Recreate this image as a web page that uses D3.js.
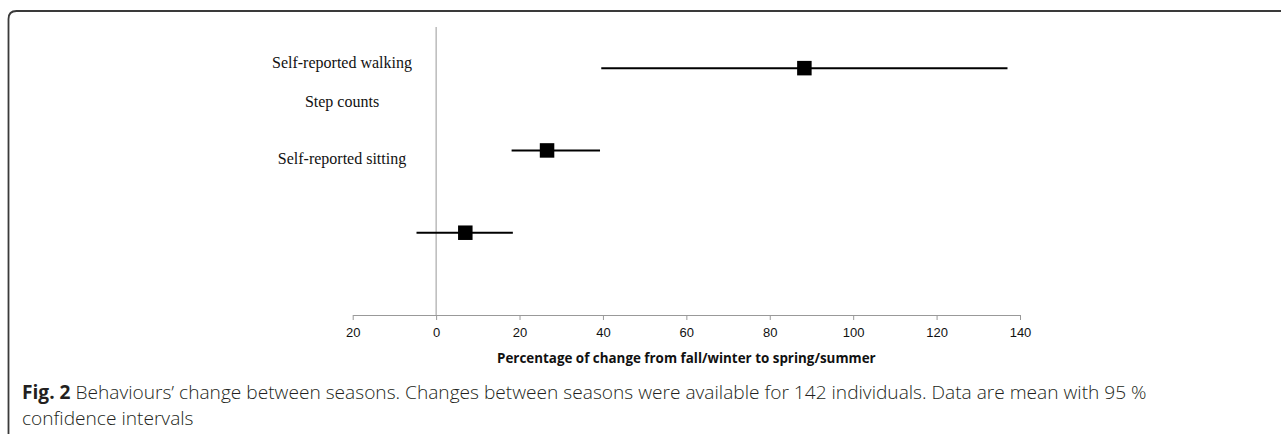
<!DOCTYPE html>
<html>
<head>
<meta charset="utf-8">
<script src="https://cdn.jsdelivr.net/npm/d3@7"></script>
<style>
  body { margin: 0; background: #fff; }
  svg { display: block; }
</style>
</head>
<body>
<div id="chart"></div>
<script>
var width = 1281,
    height = 434;

// behaviours, mean % change and 95 % CI
var behaviours = ["Self-reported walking", "Step counts", "Self-reported sitting"];
var meanChange = [88.3, 26.6, 7.0];
var lowerCI = [39.6, 18.1, -4.7];
var upperCI = [137.0, 39.3, 18.4];

var tickValues = [-20, 0, 20, 40, 60, 80, 100, 120, 140];
var tickLabels = ["20", "0", "20", "40", "60", "80", "100", "120", "140"];

var axisTitle = "Percentage of change from fall/winter to spring/summer";
var captionLines = [
    ["Fig. 2", " Behaviours\u2019 change between seasons. Changes between seasons were available for 142 individuals. Data are mean with 95 %"],
    ["", "confidence intervals"]
];

var svg = d3.select("#chart").append("svg")
    .attr("width", width)
    .attr("height", height);

// figure frame (rounded top-left corner)
svg.append("path")
    .attr("d", "M8.5," + height + "V19Q8.5,11 16.5,11H" + width)
    .attr("fill", "none")
    .attr("stroke", "#3a3a3a")
    .attr("stroke-width", 1.8);

var x = d3.scaleLinear().domain([-20, 140]).range([352.7, 1020]);
// rows numbered from the axis upwards
var y = d3.scaleLinear().domain([0, 3.5]).range([315, 27]);
var rowOf = function (i) { return 3 - i; };

// zero line
svg.append("line")
    .attr("x1", x(0)).attr("x2", x(0))
    .attr("y1", y(3.5)).attr("y2", y(0))
    .attr("stroke", "#999")
    .attr("stroke-width", 1);

// x axis
var axis = svg.append("g")
    .attr("transform", "translate(0," + y(0) + ")")
    .attr("font-size", null)
    .attr("font-family", null)
    .call(d3.axisBottom(x)
        .tickValues(tickValues)
        .tickFormat(function (d, i) { return tickLabels[i]; })
        .tickSize(5)
        .tickSizeOuter(0)
        .tickPadding(8));
axis.attr("font-size", "13px").attr("font-family", "'Liberation Sans', Arial, sans-serif");
axis.select(".domain").attr("stroke", "#999");
axis.selectAll(".tick line").attr("stroke", "#999");
axis.selectAll(".tick text").attr("fill", "#111");

// axis title, centred on the axis
var title = svg.append("text")
    .attr("x", (x(-20) + x(140)) / 2)
    .attr("y", 363)
    .attr("text-anchor", "middle")
    .attr("fill", "#111")
    .style("font-family", "'Open Sans', sans-serif")
    .style("font-weight", "bold")
    .style("font-size", "13px")
    .text(axisTitle);
var tw = title.node().getComputedTextLength();
title.style("font-size", (13 * 379 / tw) + "px");

// category labels (sit a little off the marker rows, as in the figure)
var labelRow = [3.07, 2.59, 1.9];
svg.selectAll(".label")
    .data(behaviours)
    .enter().append("text")
    .attr("class", "label")
    .attr("x", 342)
    .attr("y", function (d, i) { return y(labelRow[i]) + 5.5; })
    .attr("text-anchor", "middle")
    .attr("fill", "#111")
    .style("font-family", "'Liberation Serif', serif")
    .style("font-size", "16px")
    .text(function (d) { return d; });

// confidence intervals
svg.selectAll(".ci")
    .data(behaviours)
    .enter().append("line")
    .attr("class", "ci")
    .attr("x1", function (d, i) { return x(lowerCI[i]); })
    .attr("x2", function (d, i) { return x(upperCI[i]); })
    .attr("y1", function (d, i) { return y(rowOf(i)); })
    .attr("y2", function (d, i) { return y(rowOf(i)); })
    .attr("stroke", "#000")
    .attr("stroke-width", 2);

// mean markers
var sq = 14.5;
svg.selectAll(".mean")
    .data(behaviours)
    .enter().append("rect")
    .attr("class", "mean")
    .attr("x", function (d, i) { return x(meanChange[i]) - sq / 2; })
    .attr("y", function (d, i) { return y(rowOf(i)) - sq / 2; })
    .attr("width", sq)
    .attr("height", sq)
    .attr("fill", "#000");

// caption
var cap = svg.append("g")
    .style("font-family", "'Open Sans', sans-serif")
    .style("font-size", "16px")
    .attr("fill", "#231f20");
var capText = cap.selectAll("text")
    .data(captionLines)
    .enter().append("text")
    .attr("x", 22)
    .attr("y", function (d, i) { return 399 + i * 26; });
capText.append("tspan").style("font-weight", "bold").text(function (d) { return d[0]; });
capText.append("tspan").style("font-weight", "300").text(function (d) { return d[1]; });
var cw = capText.node().getComputedTextLength();
var fs = 16 * 1126 / cw;
cap.style("font-size", fs + "px");
</script>
</body>
</html>
